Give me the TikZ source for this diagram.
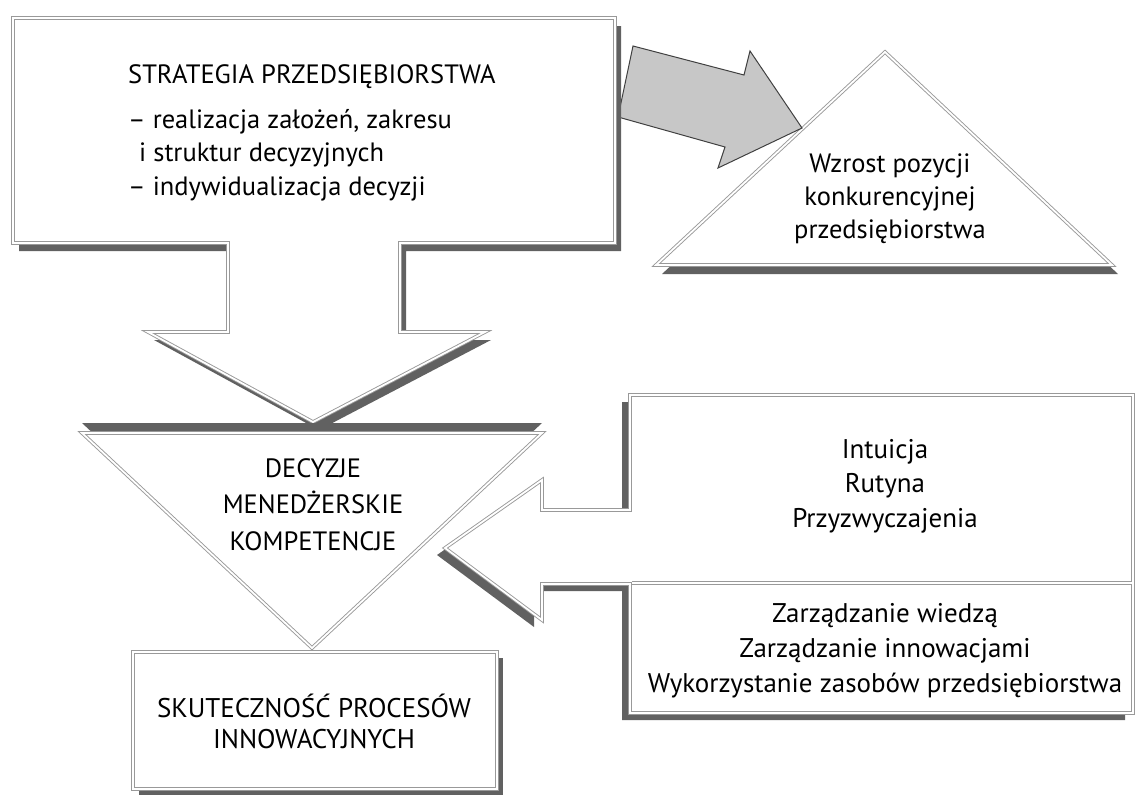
\documentclass[tikz,border=0pt]{standalone}
\usepackage{fontspec}
\setmainfont{PT Sans}
\usetikzlibrary{positioning,shadows}

\begin{document}
\begin{tikzpicture}[%
    x=1pt, y=-1pt,
    line join=miter,
    frame/.style={draw=black!40, fill=white, line width=0.9pt, double=white, double distance=1.8pt},
    txt/.style={inner sep=0pt, text=black, font=\fontsize{26.5}{35}\selectfont, align=center},
    caps/.style={txt, font=\fontsize{26.5}{36}\selectfont}]
    \useasboundingbox (0,0) rectangle (1140,795);

    % pyramid on the right
    \path[frame, drop shadow={shadow xshift=6pt, shadow yshift=-9pt, fill=black!62, opacity=1}]
        (656,265) -- (885,52) -- (1112,265) -- cycle;

    % grey arrow pointing to the pyramid
    \draw[fill=black!22, draw=black!75, line width=1pt]
        (633,46) -- (744,75) -- (750,51) -- (802,128) -- (718,168) -- (725,147) -- (618,117) -- cycle;

    % strategy box with arrow down
    \path[frame, drop shadow={shadow xshift=6pt, shadow yshift=-8pt, fill=black!62, opacity=1}]
        (13,18) -- (615,18) -- (615,243) -- (400,243) -- (400,332) -- (485,332)
        -- (313,422) -- (148,332) -- (228,332) -- (228,243) -- (13,243) -- cycle;

    % decisions, upside down triangle
    \path[frame, drop shadow={shadow xshift=0pt, shadow yshift=10pt, fill=black!62, opacity=1}]
        (82,433) -- (542,433) -- (312,648) -- cycle;

    % factors box with arrow left
    \path[frame, drop shadow={shadow xshift=-8pt, shadow yshift=-7pt, fill=black!62, opacity=1}]
        (630,395) -- (1133,395) -- (1133,713) -- (630,713) -- (630,584) -- (542,584)
        -- (542,620) -- (445,548) -- (542,480) -- (542,510) -- (630,510) -- cycle;
    \draw[frame] (632,583) -- (1132,583);

    % result box
    \path[frame, drop shadow={shadow xshift=6pt, shadow yshift=-6pt, fill=black!62, opacity=1}]
        (133,652) rectangle (497,789);

    \node[caps, anchor=base west] (strategy_title) at (128,83) {STRATEGIA PRZEDSIĘBIORSTWA};
    \node[txt, align=left, anchor=base west, font=\fontsize{26.5}{33.5}\selectfont] (strategy_list)
        at ([yshift=-112pt]strategy_title.base west)
        {– realizacja założeń, zakresu\\\hspace*{11pt}i struktur decyzyjnych\\– indywidualizacja decyzji};

    \node[txt, anchor=base, font=\fontsize{26.5}{33}\selectfont] (position_text) at (890,238)
        {Wzrost pozycji\\konkurencyjnej\\przedsiębiorstwa};
    \node[caps, anchor=base, font=\fontsize{26.5}{36.5}\selectfont] (decision_text) at (313,550)
        {DECYZJE\\MENEDŻERSKIE\\KOMPETENCJE};
    \node[caps, anchor=base, font=\fontsize{27}{31}\selectfont] (result_text) at (314,748)
        {SKUTECZNOŚĆ PROCESÓW\\INNOWACYJNYCH};
    \node[txt, anchor=base, font=\fontsize{27}{34.5}\selectfont] (habit_text) at (885,527)
        {Intuicja\\Rutyna\\Przyzwyczajenia};
    \node[txt, anchor=base, font=\fontsize{27}{35}\selectfont] (knowledge_text) at (885,692)
        {Zarządzanie wiedzą\\Zarządzanie innowacjami\\Wykorzystanie zasobów przedsiębiorstwa};
\end{tikzpicture}
\end{document}
